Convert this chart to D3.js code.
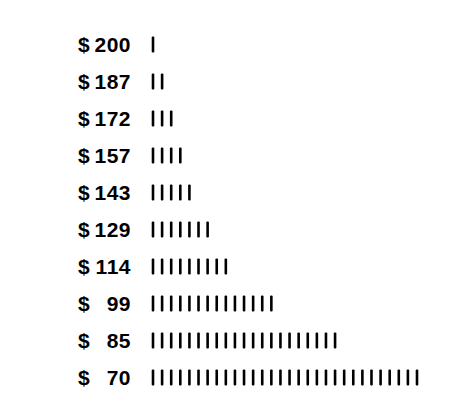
<!DOCTYPE html>
<html><head><meta charset="utf-8">
<script src="https://cdn.jsdelivr.net/npm/d3@7"></script>
<style>body{margin:0;background:#fff}text{font-family:"Liberation Sans",Arial,sans-serif;font-weight:bold}</style>
</head><body>
<svg width="456" height="416"></svg>
<script>
const prices = ["200", "187", "172", "157", "143", "129", "114", "99", "85", "70"];
const tallies = [1, 2, 3, 4, 5, 7, 9, 14, 21, 30];

const svg = d3.select("svg");
const y = d3.scaleBand().domain(prices).range([26, 396]);
const x = d3.scaleLinear().domain([0, 29]).range([153, 417]);

const rows = svg.selectAll(".row").data(prices).enter().append("g")
  .attr("class", "row")
  .attr("transform", d => `translate(0,${y(d) + y.bandwidth() / 2})`);

rows.append("text").attr("x", 78).attr("y", 7.5).attr("font-size", 21)
  .attr("letter-spacing", 0.5).text("$");
rows.append("text").attr("x", 131).attr("y", 7.5).attr("font-size", 21)
  .attr("letter-spacing", 0.5).attr("text-anchor", "end").text(d => d);

rows.each(function(d, i) {
  d3.select(this).selectAll("rect").data(d3.range(tallies[i])).enter().append("rect")
    .attr("x", k => x(k) - 1.3)
    .attr("y", -8)
    .attr("width", 2.6)
    .attr("height", 16)
    .attr("rx", 1)
    .attr("fill", "#000");
});
</script>
</body></html>
